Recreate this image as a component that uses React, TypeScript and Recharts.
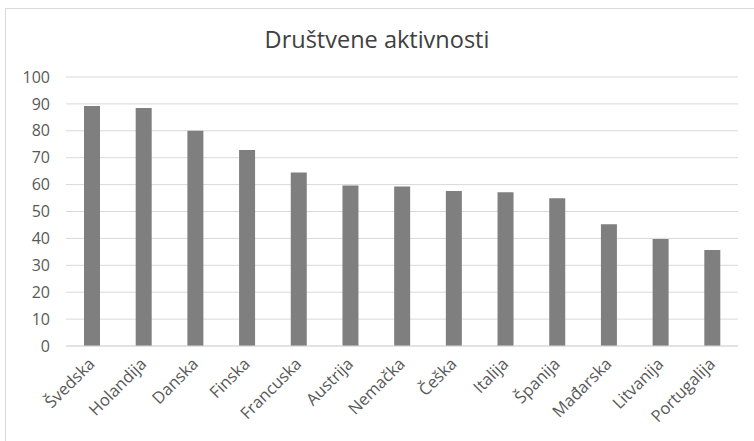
import React from "react";
import { BarChart, Bar, XAxis, YAxis, CartesianGrid } from "recharts";

const countries = [
  "Švedska",
  "Holandija",
  "Danska",
  "Finska",
  "Francuska",
  "Austrija",
  "Nemačka",
  "Češka",
  "Italija",
  "Španija",
  "Mađarska",
  "Litvanija",
  "Portugalija",
];
const values = [89.2, 88.5, 80, 72.9, 64.5, 59.7, 59.3, 57.6, 57.2, 54.9, 45.3, 39.8, 35.7];
const yTicks = [0, 10, 20, 30, 40, 50, 60, 70, 80, 90, 100];
const title = "Društvene aktivnosti";

const data = countries.map((c, i) => ({ name: c, value: values[i] }));

const FONT = "'Open Sans', sans-serif";

const XTick = (props: any) => {
  const { x, y, payload } = props;
  return (
    <g transform={`translate(${x + 4},${y + 19})`}>
      <text
        transform="rotate(-45)"
        textAnchor="end"
        fill="#595959"
        fontSize={16.5}
        fontFamily={FONT}
      >
        {payload.value}
      </text>
    </g>
  );
};

export default function App() {
  return (
    <div
      style={{
        position: "fixed",
        left: 0,
        top: 0,
        width: 754,
        height: 441,
        overflow: "hidden",
        background: "#fff",
      }}
    >
      <div
        style={{
          position: "absolute",
          left: 5,
          top: 8,
          width: 800,
          height: 500,
          border: "1px solid #d9d9d9",
          boxSizing: "border-box",
        }}
      />
      <div
        style={{
          position: "absolute",
          left: 0,
          top: 23,
          width: 754,
          textAlign: "center",
          fontFamily: FONT,
          fontSize: 23.5,
          color: "#404040",
          lineHeight: "32px",
        }}
      >
        {title}
      </div>
      <div style={{ position: "absolute", left: 0, top: 0 }}>
        <BarChart
          width={754}
          height={441}
          data={data}
          margin={{ top: 77, right: 16, bottom: 0, left: 0 }}
        >
          <CartesianGrid vertical={false} stroke="#d9d9d9" strokeWidth={1} />
          <XAxis
            dataKey="name"
            interval={0}
            height={95}
            tickLine={false}
            tickSize={0}
            tickMargin={0}
            axisLine={{ stroke: "#d9d9d9" }}
            tick={<XTick />}
          />
          <YAxis
            width={66}
            domain={[0, 100]}
            ticks={yTicks}
            axisLine={false}
            tickLine={false}
            tickSize={0}
            tickMargin={16}
            tick={{ fill: "#595959", fontSize: 16, fontFamily: FONT }}
          />
          <Bar dataKey="value" fill="#7f7f7f" barSize={16} isAnimationActive={false} />
        </BarChart>
      </div>
    </div>
  );
}
